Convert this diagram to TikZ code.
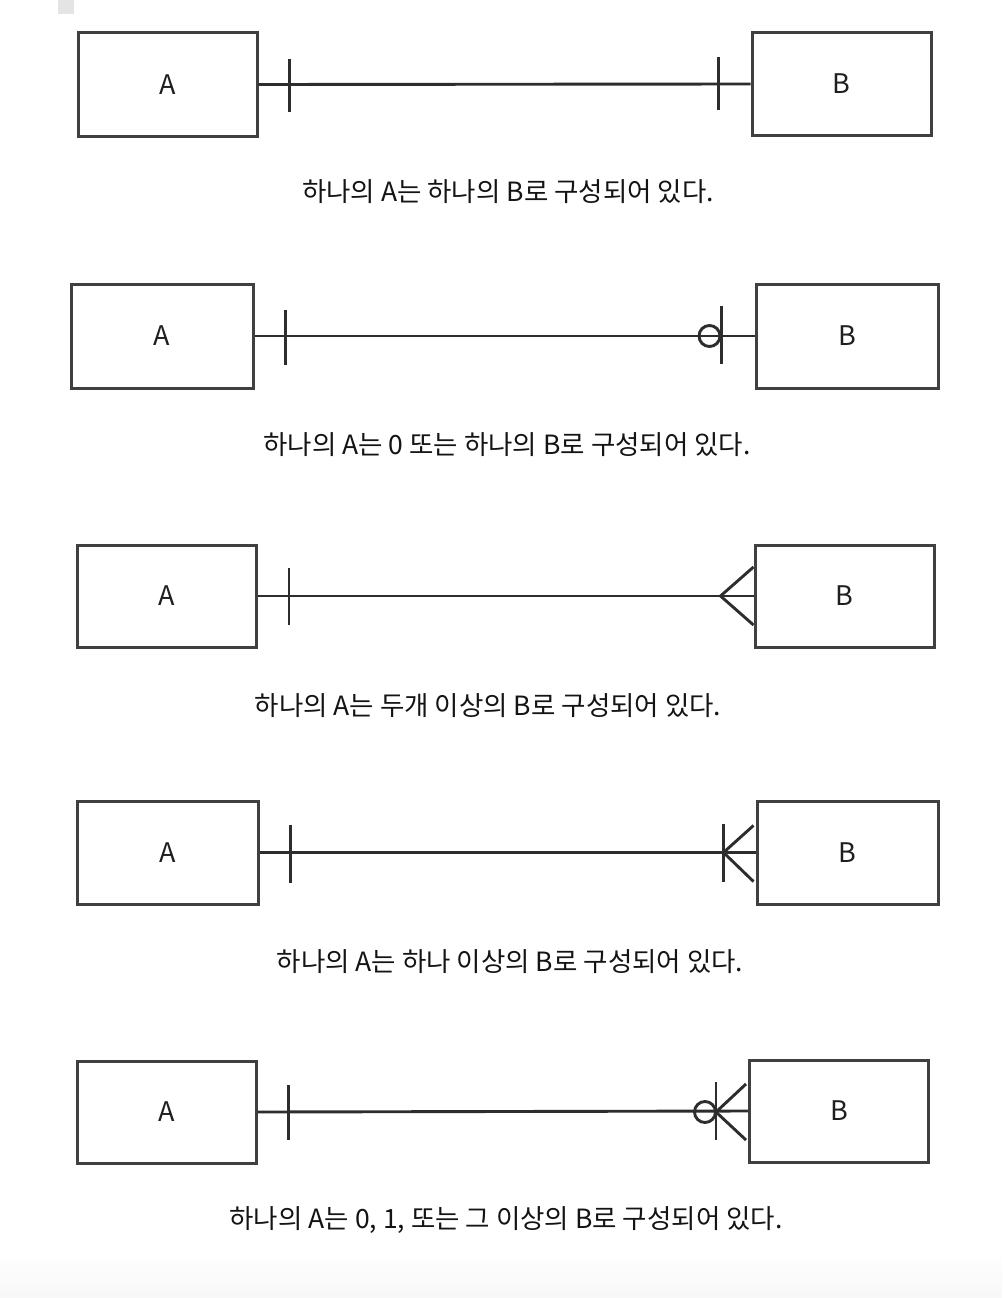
\documentclass[tikz,border=0pt]{standalone}
\usepackage{fontspec}
\newfontfamily\krfont{Noto Sans CJK KR}
\definecolor{inkgray}{RGB}{45,45,45}
\definecolor{boxgray}{RGB}{64,64,64}
\definecolor{pagegray}{RGB}{228,228,228}
\usetikzlibrary{calc}

\begin{document}
\begin{tikzpicture}[x=1pt, y=-1pt,
      ent/.style={draw=boxgray, line width=3pt, minimum width=179pt,
                  minimum height=103pt, inner sep=0pt, text=black!88,
                  font=\krfont\fontsize{27}{30}\selectfont},
      rel/.style={draw=inkgray, line width=2.9pt},
      erbar/.style={draw=inkgray, line width=2.9pt},
      capt/.style={font=\krfont\fontsize{26.5}{30}\selectfont, text=black!92,
                   inner sep=0pt}
    ]
    \useasboundingbox (0,0) rectangle (1002,1298);
    \fill[white] (0,0) rectangle (1002,1298);
    \shade[top color=white, bottom color=black!3] (0,1250) rectangle (1002,1298);
    \fill[pagegray] (58,0) rectangle (74,14);

    % one to one
    \node[ent] (a1) at (167.5,84.5) {A};
    \node[ent] (b1) at (841.5,84) {B};
    \draw[rel] (a1.east)--(b1.west);
    \draw[erbar] ($(a1.east)+(31,-25)$)--($(a1.east)+(31,27)$);
    \draw[erbar] ($(b1.west)+(-32,-27)$)--($(b1.west)+(-32,26)$);
    \node[capt] (t1) at (508,192) {하나의 A는 하나의 B로 구성되어 있다.};

    % one to zero or one
    \node[ent, minimum width=182pt, minimum height=104pt] (a2) at (162,336) {A};
    \node[ent, minimum width=182pt, minimum height=104pt] (b2) at (847,336) {B};
    \draw[rel] (a2.east)--(b2.west);
    \draw[erbar] ($(a2.east)+(31,-26)$)--($(a2.east)+(31,29)$);
    \draw[erbar] ($(b2.west)+(-33,-30)$)--($(b2.west)+(-33,28)$);
    \draw[erbar] ($(b2.west)+(-45,0)$) circle (10.5);
    \node[capt] (t2) at (507,445) {하나의 A는 0 또는 하나의 B로 구성되어 있다.};

    % one to many
    \node[ent, minimum height=102pt] (a3) at (167,596) {A};
    \node[ent, minimum height=102pt] (b3) at (844.5,596) {B};
    \draw[rel] (a3.east)--(b3.west);
    \draw[erbar] ($(a3.east)+(31,-28)$)--($(a3.east)+(31,29)$);
    \draw[erbar] ($(b3.west)+(0,-29)$)--($(b3.west)+(-33,0)$)--($(b3.west)+(0,29)$);
    \node[capt] (t3) at (488,706) {하나의 A는 두개 이상의 B로 구성되어 있다.};

    % one to one or many
    \node[ent, minimum width=181pt] (a4) at (167.5,852.5) {A};
    \node[ent, minimum width=181pt] (b4) at (847.5,852.5) {B};
    \draw[rel] (a4.east)--(b4.west);
    \draw[erbar] ($(a4.east)+(31,-28)$)--($(a4.east)+(31,30)$);
    \draw[erbar] ($(b4.west)+(-32,-29)$)--($(b4.west)+(-32,29)$);
    \draw[erbar] ($(b4.west)+(-2,-27)$)--($(b4.west)+(-32,0)$)--($(b4.west)+(-2,29)$);
    \node[capt] (t4) at (510,962) {하나의 A는 하나 이상의 B로 구성되어 있다.};

    % one to zero or many
    \node[ent, minimum height=102pt] (a5) at (166.5,1112) {A};
    \node[ent, minimum height=102pt] (b5) at (839,1111) {B};
    \draw[rel] (a5.east)--(b5.west);
    \draw[erbar] ($(a5.east)+(31,-27)$)--($(a5.east)+(31,28)$);
    \draw[erbar] ($(b5.west)+(-32,-29)$)--($(b5.west)+(-32,29)$);
    \draw[erbar] ($(b5.west)+(-2,-27)$)--($(b5.west)+(-32,1)$)--($(b5.west)+(-2,29)$);
    \draw[erbar] ($(b5.west)+(-43,1)$) circle (10.5);
    \node[capt] (t5) at (506,1220) {하나의 A는 0, 1, 또는 그 이상의 B로 구성되어 있다.};
  \end{tikzpicture}
\end{document}
